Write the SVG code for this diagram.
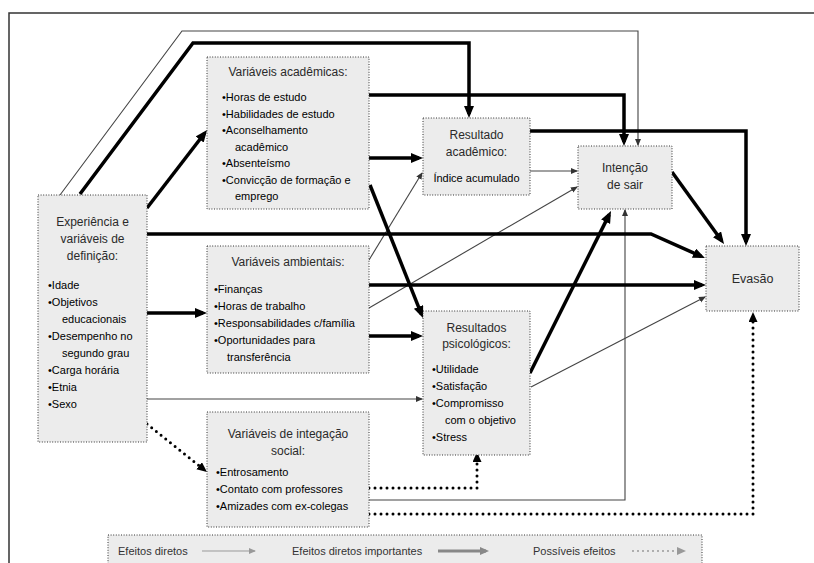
<svg xmlns="http://www.w3.org/2000/svg" width="814" height="563" viewBox="0 0 814 563">
<style>
  text { font-family: "Liberation Sans", Arial, sans-serif; }
  .title { font-size: 12px; fill: #2a2a2a; text-anchor: middle; }
  .item { font-size: 11px; fill: #000; }
  .leg { font-size: 11px; fill: #333; }
  .box { fill: #ececec; stroke: #333; stroke-width: 1; stroke-dasharray: 1 1.6; }
  .thin { fill: none; stroke: #444; stroke-width: 1.1; }
  .thick { fill: none; stroke: #000; stroke-width: 3.5; stroke-linejoin: miter; }
  .dotted { fill: none; stroke: #000; stroke-width: 3; stroke-linecap: round; stroke-dasharray: 0 6; }
</style>
<defs>
  <marker id="aThin" markerUnits="userSpaceOnUse" markerWidth="8" markerHeight="7" refX="6" refY="3" orient="auto">
    <path d="M0,0 L7,3 L0,6 z" fill="#333"/>
  </marker>
  <marker id="aThick" markerUnits="userSpaceOnUse" markerWidth="13" markerHeight="11" refX="8" refY="5" orient="auto">
    <path d="M0,0 L12,5 L0,10 z" fill="#000"/>
  </marker>
  <marker id="aDot" markerUnits="userSpaceOnUse" markerWidth="11" markerHeight="10" refX="3" refY="4.5" orient="auto">
    <path d="M0,0 L10,4.5 L0,9 z" fill="#000"/>
  </marker>
  <marker id="lThin" markerUnits="userSpaceOnUse" markerWidth="8" markerHeight="7" refX="6" refY="3" orient="auto">
    <path d="M0,0 L7,3 L0,6 z" fill="#999"/>
  </marker>
  <marker id="lThick" markerUnits="userSpaceOnUse" markerWidth="10" markerHeight="9" refX="6" refY="4" orient="auto">
    <path d="M0,0 L9,4 L0,8 z" fill="#888"/>
  </marker>
  <marker id="lDot" markerUnits="userSpaceOnUse" markerWidth="10" markerHeight="9" refX="3" refY="4" orient="auto">
    <path d="M0,0 L9,4 L0,8 z" fill="#999"/>
  </marker>
</defs>

<rect width="814" height="563" fill="#fff"/>
<path d="M9,563 L9,13 L814,13" fill="none" stroke="#333" stroke-width="1.5"/>

<g id="connectors">
  <!-- thin -->
  <polyline class="thin" points="60,195 182,31 638,31 638,145" marker-end="url(#aThin)"/>
  <line class="thin" x1="369" y1="260" x2="422" y2="173" marker-end="url(#aThin)"/>
  <line class="thin" x1="369" y1="308" x2="577" y2="187" marker-end="url(#aThin)"/>
  <line class="thin" x1="147" y1="399" x2="422" y2="399" marker-end="url(#aThin)"/>
  <polyline class="thin" points="369,500 625,500 625,210" marker-end="url(#aThin)"/>
  <line class="thin" x1="530" y1="171" x2="577" y2="171" marker-end="url(#aThin)"/>
  <line class="thin" x1="531" y1="387" x2="705" y2="297" marker-end="url(#aThin)"/>
  <!-- thick -->
  <polyline class="thick" points="80,194 193,43 469,43 469,114" marker-end="url(#aThick)"/>
  <line class="thick" x1="147" y1="208" x2="204.6" y2="133.2" marker-end="url(#aThick)"/>
  <polyline class="thick" points="369,95 624,95 624,142" marker-end="url(#aThick)"/>
  <line class="thick" x1="369" y1="158" x2="419" y2="158" marker-end="url(#aThick)"/>
  <line class="thick" x1="370" y1="185" x2="421.5" y2="314.3" marker-end="url(#aThick)"/>
  <polyline class="thick" points="147,234 651,234 701.3,256.4" marker-end="url(#aThick)"/>
  <line class="thick" x1="147" y1="313" x2="203" y2="313" marker-end="url(#aThick)"/>
  <line class="thick" x1="369" y1="285" x2="702" y2="285" marker-end="url(#aThick)"/>
  <line class="thick" x1="369" y1="336" x2="419" y2="336" marker-end="url(#aThick)"/>
  <polyline class="thick" points="530,131 746,131 746,242" marker-end="url(#aThick)"/>
  <line class="thick" x1="530" y1="373" x2="609.2" y2="214.6" marker-end="url(#aThick)"/>
  <line class="thick" x1="672" y1="172" x2="721.7" y2="240.8" marker-end="url(#aThick)"/>
  <!-- dotted -->
  <line class="dotted" x1="147" y1="424" x2="201.5" y2="467.6" marker-end="url(#aDot)"/>
  <polyline class="dotted" points="369,488 477,488 477,459" marker-end="url(#aDot)"/>
  <polyline class="dotted" points="369,514 753,514 753,319" marker-end="url(#aDot)"/>
</g>

<g id="experiencia">
  <rect class="box" x="38" y="195" width="109" height="247"/>
  <text class="title" x="92.5" y="226">Experiência e</text>
  <text class="title" x="92.5" y="243">variáveis de</text>
  <text class="title" x="92.5" y="260">definição:</text>
  <text class="item" x="48" y="289">•Idade</text>
  <text class="item" x="48" y="306">•Objetivos</text>
  <text class="item" x="62" y="323">educacionais</text>
  <text class="item" x="48" y="340">•Desempenho no</text>
  <text class="item" x="62" y="357">segundo grau</text>
  <text class="item" x="48" y="374">•Carga horária</text>
  <text class="item" x="48" y="391">•Etnia</text>
  <text class="item" x="48" y="408">•Sexo</text>
</g>

<g id="academicas">
  <rect class="box" x="207" y="57" width="162" height="152"/>
  <text class="title" x="288" y="76">Variáveis acadêmicas:</text>
  <text class="item" x="222" y="101">•Horas de estudo</text>
  <text class="item" x="222" y="117.5">•Habilidades de estudo</text>
  <text class="item" x="222" y="134">•Aconselhamento</text>
  <text class="item" x="235" y="150.5">acadêmico</text>
  <text class="item" x="222" y="167">•Absenteísmo</text>
  <text class="item" x="222" y="183.5">•Convicção de formação e</text>
  <text class="item" x="235" y="200">emprego</text>
</g>

<g id="ambientais">
  <rect class="box" x="207" y="246" width="162" height="127"/>
  <text class="title" x="288" y="266">Variáveis ambientais:</text>
  <text class="item" x="214" y="293">•Finanças</text>
  <text class="item" x="214" y="310">•Horas de trabalho</text>
  <text class="item" x="214" y="327">•Responsabilidades c/família</text>
  <text class="item" x="214" y="344">•Oportunidades para</text>
  <text class="item" x="227" y="361">transferência</text>
</g>

<g id="integracao">
  <rect class="box" x="207" y="412" width="162" height="115"/>
  <text class="title" x="288" y="438">Variáveis de integação</text>
  <text class="title" x="288" y="455">social:</text>
  <text class="item" x="216" y="476">•Entrosamento</text>
  <text class="item" x="216" y="493">•Contato com professores</text>
  <text class="item" x="216" y="510">•Amizades com ex-colegas</text>
</g>

<g id="resultado-academico">
  <rect class="box" x="423" y="118" width="107" height="77"/>
  <text class="title" x="476.5" y="139">Resultado</text>
  <text class="title" x="476.5" y="156">acadêmico:</text>
  <text class="item" x="476.5" y="182" text-anchor="middle">Índice acumulado</text>
</g>

<g id="intencao">
  <rect class="box" x="578" y="146" width="94" height="63"/>
  <text class="title" x="625" y="172">Intenção</text>
  <text class="title" x="625" y="189">de sair</text>
</g>

<g id="evasao">
  <rect class="box" x="706" y="246" width="93" height="65"/>
  <text class="title" x="752.5" y="283" style="font-size:12.5px">Evasão</text>
</g>

<g id="psicologicos">
  <rect class="box" x="423" y="311" width="107" height="144"/>
  <text class="title" x="476.5" y="332">Resultados</text>
  <text class="title" x="476.5" y="348">psicológicos:</text>
  <text class="item" x="432" y="373">•Utilidade</text>
  <text class="item" x="432" y="390">•Satisfação</text>
  <text class="item" x="432" y="407">•Compromisso</text>
  <text class="item" x="445" y="424">com o objetivo</text>
  <text class="item" x="432" y="441">•Stress</text>
</g>

<g id="legenda">
  <rect class="box" x="108" y="535" width="594" height="34"/>
  <text class="leg" x="118" y="555">Efeitos diretos</text>
  <line x1="202" y1="551" x2="255" y2="551" stroke="#999" stroke-width="1" marker-end="url(#lThin)"/>
  <text class="leg" x="292" y="555">Efeitos diretos importantes</text>
  <line x1="438" y1="551" x2="486" y2="551" stroke="#888" stroke-width="3" marker-end="url(#lThick)"/>
  <text class="leg" x="533" y="555">Possíveis efeitos</text>
  <line x1="633" y1="551" x2="680" y2="551" stroke="#999" stroke-width="2" stroke-linecap="round" stroke-dasharray="0 5" marker-end="url(#lDot)"/>
</g>
</svg>
